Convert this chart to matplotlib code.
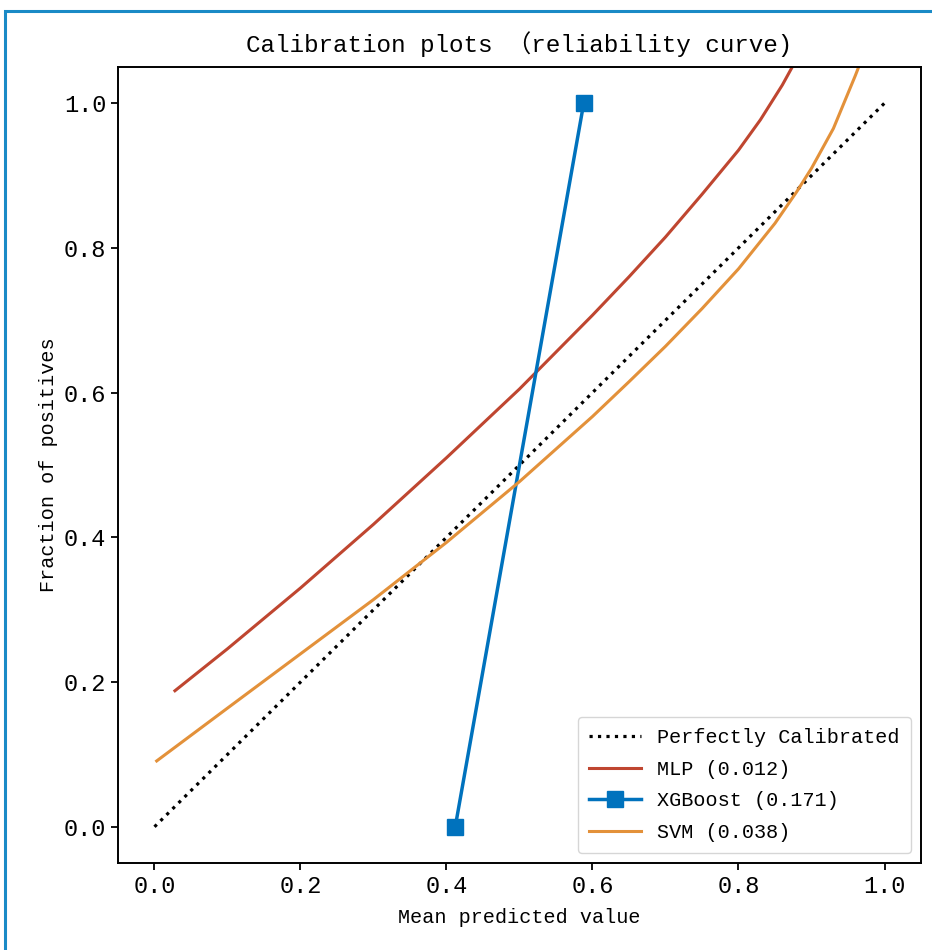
import matplotlib
matplotlib.use("Agg")
import matplotlib.pyplot as plt
from matplotlib.patches import Rectangle

"""
Calibration plot (reliability curve) for three classifiers.
"""

plt.rcParams['font.family'] = ['Liberation Mono', 'Noto Sans CJK SC', 'DejaVu Sans']

# values
perfect_x = [0.0, 1.0]
perfect_y = [0.0, 1.0]

mlp_x = [0.028, 0.10, 0.20, 0.30, 0.40, 0.50, 0.60, 0.65, 0.70, 0.75, 0.80, 0.83, 0.86, 0.89]
mlp_y = [0.188, 0.246, 0.330, 0.418, 0.510, 0.605, 0.707, 0.760, 0.815, 0.874, 0.935, 0.977, 1.025, 1.080]

xgb_x = [0.412, 0.588]
xgb_y = [0.0, 1.0]

svm_x = [0.003, 0.10, 0.20, 0.30, 0.40, 0.50, 0.60, 0.65, 0.70, 0.75, 0.80, 0.85, 0.88, 0.90, 0.93, 0.96, 0.98]
svm_y = [0.091, 0.164, 0.239, 0.314, 0.393, 0.477, 0.567, 0.615, 0.664, 0.716, 0.771, 0.834, 0.878, 0.910, 0.965, 1.038, 1.090]

labels = ['Perfectly Calibrated', 'MLP (0.012)', 'XGBoost (0.171)', 'SVM (0.038)']
ticks = [0.0, 0.2, 0.4, 0.6, 0.8, 1.0]
tick_labels = ['0.0', '0.2', '0.4', '0.6', '0.8', '1.0']


def plot():
    fig = plt.figure(figsize=(9.32, 9.5), dpi=100)
    ax = fig.add_axes([0.1266, 0.0916, 0.8616, 0.8379])

    ax.plot(perfect_x, perfect_y, 'k:', lw=2.3, label=labels[0])
    ax.plot(mlp_x, mlp_y, color='#bf4630', lw=2.2, label=labels[1])
    ax.plot(xgb_x, xgb_y, color='#0072bd', lw=2.5, marker='s', ms=11.5, label=labels[2])
    ax.plot(svm_x, svm_y, color='#e3913a', lw=2.2, label=labels[3])

    ax.set_xlim(-0.05, 1.05)
    ax.set_ylim(-0.05, 1.05)
    ax.set_xticks(ticks)
    ax.set_xticklabels(tick_labels)
    ax.set_yticks(ticks)
    ax.set_yticklabels(tick_labels)
    ax.tick_params(labelsize=17, length=5, width=1.3)
    for s in ax.spines.values():
        s.set_linewidth(1.4)

    ax.set_title('Calibration plots （reliability curve)', fontsize=17.5, pad=11)
    ax.set_xlabel('Mean predicted value', fontsize=14.5, labelpad=7)
    ax.set_ylabel('Fraction of positives', fontsize=14.5, labelpad=4)
    ax.legend(loc='lower right', fontsize=14.5, handlelength=2.6, borderpad=0.55,
              labelspacing=0.62, handletextpad=0.8)

    # blue frame of the screenshot
    fig.patches.append(Rectangle((5 / 932, -0.1), 1.2, 1 - 11 / 950 + 0.1, transform=fig.transFigure,
                                 fill=False, edgecolor='#1a8ac6', lw=2.2))

    fig.savefig('out.png', dpi=100)


if __name__ == "__main__":
    plot()
